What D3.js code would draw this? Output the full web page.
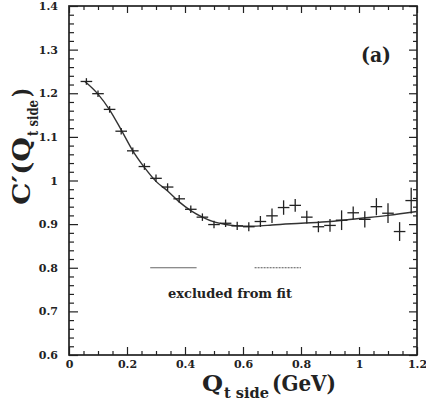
<!DOCTYPE html>
<html><head><meta charset="utf-8">
<script src="https://cdn.jsdelivr.net/npm/d3@7"></script>
<style>
body{margin:0;background:#fff;}
svg text{font-weight:bold;fill:#222;}
</style></head>
<body><svg id="c" width="426" height="405"></svg>
<script>
const qtSide = [0.06,0.10,0.14,0.18,0.22,0.26,0.30,0.34,0.38,0.42,0.46,0.50,0.54,0.58,0.62,0.66,0.70,0.74,0.78,0.82,0.86,0.90,0.94,0.98,1.02,1.06,1.10,1.14,1.18];
const cValues = [1.227,1.199,1.163,1.113,1.068,1.032,1.005,0.985,0.958,0.934,0.916,0.899,0.902,0.896,0.894,0.906,0.919,0.938,0.943,0.916,0.894,0.897,0.909,0.926,0.911,0.940,0.925,0.883,0.954];
const cErrors = [0.003,0.003,0.003,0.003,0.003,0.003,0.004,0.004,0.004,0.004,0.004,0.004,0.004,0.005,0.006,0.008,0.012,0.012,0.010,0.010,0.008,0.010,0.018,0.010,0.014,0.015,0.018,0.017,0.025];
const binHalfWidth = 0.02;
const fitX = [0.055,0.10,0.14,0.18,0.22,0.26,0.30,0.34,0.38,0.42,0.46,0.50,0.54,0.58,0.62,0.66,0.70,0.80,0.90,1.00,1.10,1.20];
const fitY = [1.227,1.198,1.162,1.116,1.068,1.030,0.998,0.976,0.951,0.931,0.916,0.905,0.899,0.896,0.895,0.896,0.898,0.902,0.906,0.913,0.920,0.929];
const excludedRanges = [[0.28,0.44],[0.64,0.80]];
const excludedLevel = 0.8;
const xTicks = [0,0.2,0.4,0.6,0.8,1,1.2];
const yTicks = [0.6,0.7,0.8,0.9,1,1.1,1.2,1.3,1.4];

const FONT = "DejaVu Serif";
const svg = d3.select("#c").attr("font-family",FONT);
const L=69,R=417,T=6,B=355;
const x = d3.scaleLinear().domain([0,1.2]).range([L,R]);
const y = d3.scaleLinear().domain([0.6,1.4]).range([B,T]);
const fmt = d=> d===0?"0":(d===1?"1":d3.format("")(d));

const xMinor = d3.range(0,1.2001,0.05).map(v=>+v.toFixed(2)).filter(v=>!xTicks.some(t=>Math.abs(t-v)<1e-6));
const yMinor = d3.range(0.6,1.4001,0.02).map(v=>+v.toFixed(2)).filter(v=>!yTicks.some(t=>Math.abs(t-v)<1e-6));

function styleAxis(g){g.attr("font-family",FONT).attr("font-size",11);g.select(".domain").remove();g.selectAll("line").attr("stroke","#222").attr("stroke-width",1.2);}
// bottom
svg.append("g").attr("transform",`translate(0,${B})`).call(d3.axisBottom(x).tickValues(xTicks).tickSizeInner(-8).tickSizeOuter(0).tickPadding(5).tickFormat(fmt)).call(styleAxis);
svg.append("g").attr("transform",`translate(0,${B})`).call(d3.axisBottom(x).tickValues(xMinor).tickSizeInner(-4).tickSizeOuter(0).tickFormat("")).call(styleAxis);
// top
svg.append("g").attr("transform",`translate(0,${T})`).call(d3.axisTop(x).tickValues(xTicks).tickSizeInner(-7).tickSizeOuter(0).tickFormat("")).call(styleAxis);
svg.append("g").attr("transform",`translate(0,${T})`).call(d3.axisTop(x).tickValues(xMinor).tickSizeInner(-4).tickSizeOuter(0).tickFormat("")).call(styleAxis);
// left
svg.append("g").attr("transform",`translate(${L},0)`).call(d3.axisLeft(y).tickValues(yTicks).tickSizeInner(-9).tickSizeOuter(0).tickPadding(11).tickFormat(fmt)).call(styleAxis);
svg.append("g").attr("transform",`translate(${L},0)`).call(d3.axisLeft(y).tickValues(yMinor).tickSizeInner(-5).tickSizeOuter(0).tickFormat("")).call(styleAxis);
// right
svg.append("g").attr("transform",`translate(${R},0)`).call(d3.axisRight(y).tickValues(yTicks).tickSizeInner(-8).tickSizeOuter(0).tickFormat("")).call(styleAxis);
svg.append("g").attr("transform",`translate(${R},0)`).call(d3.axisRight(y).tickValues(yMinor).tickSizeInner(-4).tickSizeOuter(0).tickFormat("")).call(styleAxis);
// frame
svg.append("rect").attr("x",L).attr("y",T).attr("width",R-L).attr("height",B-T).attr("fill","none").attr("stroke","#222").attr("stroke-width",1.7);

// fit curve
const fitData = fitX.map((v,i)=>[v,fitY[i]]);
svg.append("path").datum(fitData).attr("fill","none").attr("stroke","#333").attr("stroke-width",1.4)
  .attr("d",d3.line().x(d=>x(d[0])).y(d=>y(d[1])).curve(d3.curveMonotoneX));

// data points with error bars
const pts = svg.append("g").attr("stroke","#222").attr("stroke-width",1.3);
qtSide.forEach((q,i)=>{
  pts.append("line").attr("x1",x(q-binHalfWidth)).attr("x2",x(q+binHalfWidth)).attr("y1",y(cValues[i])).attr("y2",y(cValues[i]));
  pts.append("line").attr("x1",x(q)).attr("x2",x(q)).attr("y1",y(cValues[i]-cErrors[i])+2).attr("y2",y(cValues[i]+cErrors[i])-2);
});

// excluded ranges
excludedRanges.forEach((r,i)=>{
  svg.append("line").attr("x1",x(r[0])).attr("x2",x(r[1])).attr("y1",y(excludedLevel)).attr("y2",y(excludedLevel))
    .attr("stroke",i===0?"#666":"#555").attr("stroke-width",1.2).attr("stroke-dasharray",i===0?null:"2,1");
});
svg.append("text").attr("x",168).attr("y",298).attr("font-size",12.5)
  .attr("textLength",124).attr("lengthAdjust","spacingAndGlyphs").text("excluded from fit");
svg.append("text").attr("x",361).attr("y",62).attr("font-size",20)
  .attr("textLength",30).attr("lengthAdjust","spacingAndGlyphs").text("(a)");

// y label (rotated)
const yl = svg.append("g").attr("transform","translate(30,205) rotate(-90)");
yl.append("text").attr("x",0).attr("y",0).attr("font-size",24).attr("textLength",68).attr("lengthAdjust","spacingAndGlyphs").text("C′(Q");
yl.append("text").attr("x",69).attr("y",8).attr("font-size",15).attr("textLength",36).attr("lengthAdjust","spacingAndGlyphs").text("t side");
yl.append("text").attr("x",108).attr("y",0).attr("font-size",24).attr("textLength",9).attr("lengthAdjust","spacingAndGlyphs").text(")");
// x label
svg.append("text").attr("x",202).attr("y",391).attr("font-size",22).attr("textLength",21).attr("lengthAdjust","spacingAndGlyphs").text("Q");
svg.append("text").attr("x",224).attr("y",398).attr("font-size",15).attr("textLength",45).attr("lengthAdjust","spacingAndGlyphs").text("t side");
svg.append("text").attr("x",272).attr("y",391).attr("font-size",22).attr("textLength",64).attr("lengthAdjust","spacingAndGlyphs").text("(GeV)");
</script></body></html>
